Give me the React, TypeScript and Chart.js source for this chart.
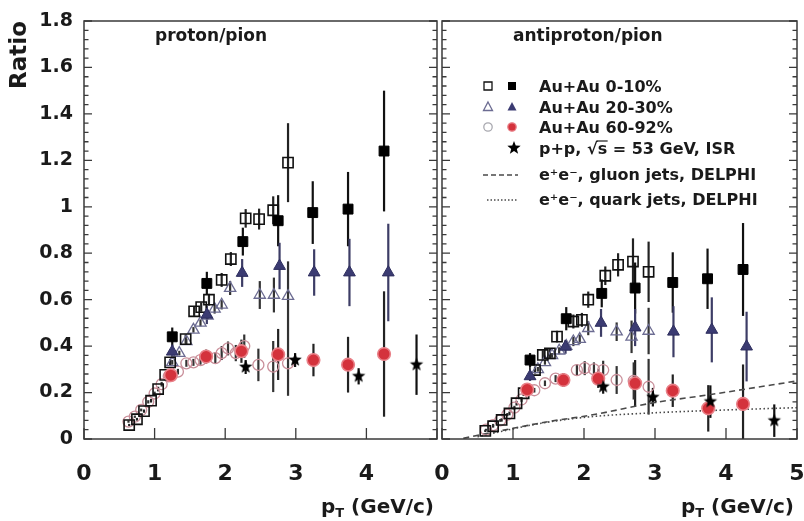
import React, { useEffect, useRef } from 'react';
import { Chart, registerables } from 'chart.js';

Chart.register(...registerables);

const FONT = '"DejaVu Sans", "Liberation Sans", Arial, sans-serif';

// ---------- axis ----------
const X_MIN = 0;
const X_MAX = 5;
const Y_MIN = 0;
const Y_MAX = 1.8;
const Y_STEP = 0.2;
const Y_MINOR = 0.04;

// ---------- left panel: proton/pion ----------
const P_OPEN010_X = [0.64, 0.75, 0.85, 0.95, 1.05, 1.15, 1.22, 1.44, 1.56, 1.66, 1.77, 1.95, 2.08, 2.29, 2.48, 2.68, 2.89];
const P_OPEN010_Y = [0.06, 0.085, 0.12, 0.165, 0.215, 0.276, 0.33, 0.43, 0.55, 0.568, 0.6, 0.685, 0.775, 0.95, 0.947, 0.985, 1.19];
const P_OPEN010_E = [0.005, 0.006, 0.007, 0.008, 0.01, 0.012, 0.015, 0.02, 0.02, 0.02, 0.025, 0.03, 0.03, 0.04, 0.045, 0.06, 0.17];

const P_FULL010_X = [1.25, 1.74, 2.25, 2.75, 3.24, 3.74, 4.25];
const P_FULL010_Y = [0.44, 0.67, 0.85, 0.94, 0.975, 0.99, 1.24];
const P_FULL010_E = [0.04, 0.05, 0.06, 0.11, 0.135, 0.16, 0.26];

const P_OPEN2030_X = [1.25, 1.35, 1.45, 1.55, 1.65, 1.75, 1.85, 1.95, 2.07, 2.49, 2.69, 2.89];
const P_OPEN2030_Y = [0.33, 0.37, 0.42, 0.47, 0.5, 0.53, 0.56, 0.578, 0.65, 0.62, 0.62, 0.615];
const P_OPEN2030_E = [0.01, 0.01, 0.012, 0.012, 0.015, 0.015, 0.02, 0.02, 0.03, 0.06, 0.075, 0.15];

const P_FULL2030_X = [1.25, 1.74, 2.24, 2.77, 3.26, 3.76, 4.31];
const P_FULL2030_Y = [0.376, 0.535, 0.715, 0.745, 0.717, 0.717, 0.717];
const P_FULL2030_E = [0.03, 0.04, 0.06, 0.1, 0.1, 0.145, 0.21];

const P_OPEN6092_X = [0.63, 0.72, 0.81, 0.91, 1.0, 1.1, 1.2, 1.33, 1.45, 1.55, 1.65, 1.86, 1.95, 2.04, 2.15, 2.27, 2.47, 2.68, 2.89];
const P_OPEN6092_Y = [0.075, 0.096, 0.125, 0.16, 0.196, 0.236, 0.27, 0.29, 0.326, 0.33, 0.34, 0.348, 0.37, 0.39, 0.37, 0.4, 0.319, 0.312, 0.326];
const P_OPEN6092_E = [0.005, 0.005, 0.006, 0.007, 0.008, 0.01, 0.01, 0.012, 0.015, 0.015, 0.02, 0.025, 0.03, 0.03, 0.035, 0.05, 0.07, 0.11, 0.14];

const P_FULL6092_X = [1.23, 1.73, 2.23, 2.75, 3.25, 3.74, 4.25];
const P_FULL6092_Y = [0.275, 0.355, 0.378, 0.364, 0.34, 0.32, 0.366];
const P_FULL6092_E = [0.02, 0.03, 0.05, 0.11, 0.07, 0.12, 0.27];

const P_PP_X = [2.29, 2.99, 3.89, 4.71];
const P_PP_Y = [0.31, 0.34, 0.27, 0.32];
const P_PP_E = [0.03, 0.03, 0.035, 0.13];

// ---------- right panel: antiproton/pion ----------
const A_OPEN010_X = [0.61, 0.72, 0.84, 0.95, 1.05, 1.15, 1.31, 1.42, 1.52, 1.62, 1.85, 1.97, 2.06, 2.3, 2.48, 2.69, 2.91];
const A_OPEN010_Y = [0.035, 0.055, 0.082, 0.11, 0.154, 0.197, 0.297, 0.362, 0.369, 0.441, 0.506, 0.513, 0.6, 0.703, 0.75, 0.764, 0.72];
const A_OPEN010_E = [0.005, 0.006, 0.007, 0.008, 0.01, 0.012, 0.015, 0.02, 0.02, 0.025, 0.03, 0.03, 0.035, 0.04, 0.05, 0.1, 0.13];

const A_FULL010_X = [1.24, 1.75, 2.25, 2.72, 3.25, 3.74, 4.24];
const A_FULL010_Y = [0.34, 0.518, 0.627, 0.65, 0.674, 0.69, 0.73];
const A_FULL010_E = [0.03, 0.05, 0.06, 0.11, 0.13, 0.13, 0.2];

const A_OPEN2030_X = [1.35, 1.45, 1.55, 1.65, 1.75, 1.85, 1.94, 2.06, 2.46, 2.67, 2.91];
const A_OPEN2030_Y = [0.3, 0.33, 0.36, 0.38, 0.4, 0.42, 0.43, 0.477, 0.462, 0.44, 0.465];
const A_OPEN2030_E = [0.01, 0.01, 0.01, 0.015, 0.015, 0.02, 0.02, 0.03, 0.04, 0.07, 0.1];

const A_FULL2030_X = [1.24, 1.74, 2.24, 2.72, 3.26, 3.8, 4.29];
const A_FULL2030_Y = [0.27, 0.397, 0.5, 0.48, 0.462, 0.47, 0.398];
const A_FULL2030_E = [0.02, 0.03, 0.06, 0.08, 0.11, 0.14, 0.15];

const A_OPEN6092_X = [0.62, 0.72, 0.82, 0.92, 1.02, 1.12, 1.3, 1.45, 1.6, 1.9, 2.01, 2.14, 2.27, 2.46, 2.7, 2.91];
const A_OPEN6092_Y = [0.04, 0.06, 0.08, 0.105, 0.135, 0.17, 0.21, 0.24, 0.26, 0.297, 0.305, 0.3, 0.297, 0.254, 0.25, 0.225];
const A_OPEN6092_E = [0.004, 0.005, 0.006, 0.007, 0.008, 0.01, 0.01, 0.012, 0.015, 0.025, 0.03, 0.03, 0.04, 0.06, 0.08, 0.12];

const A_FULL6092_X = [1.2, 1.71, 2.2, 2.72, 3.25, 3.75, 4.24];
const A_FULL6092_Y = [0.213, 0.254, 0.26, 0.24, 0.208, 0.132, 0.151];
const A_FULL6092_E = [0.02, 0.03, 0.04, 0.1, 0.07, 0.1, 0.17];

const A_PP_X = [2.27, 2.97, 3.78, 4.68];
const A_PP_Y = [0.225, 0.18, 0.161, 0.079];
const A_PP_E = [0.03, 0.04, 0.07, 0.07];

const GLUON_X = [0.3, 1.0, 1.5, 2.1, 3.0, 3.75, 5.0];
const GLUON_Y = [0.003, 0.046, 0.075, 0.103, 0.157, 0.19, 0.25];
const QUARK_X = [0.5, 1.4, 2.1, 3.0, 4.0, 5.0];
const QUARK_Y = [0.01, 0.068, 0.096, 0.113, 0.125, 0.135];

// ---------- texts ----------
const LEFT_TITLE = 'proton/pion';
const RIGHT_TITLE = 'antiproton/pion';
const Y_TITLE = 'Ratio';
const LEGEND_LABELS = [
  'Au+Au 0-10%',
  'Au+Au 20-30%',
  'Au+Au 60-92%',
  'p+p, √s = 53 GeV, ISR',
  'e⁺e⁻, gluon jets, DELPHI',
  'e⁺e⁻, quark jets, DELPHI',
];

// ---------- styles ----------
const C_BLACK = '#111111';
const C_NAVY = '#3b3b72';
const C_NAVY_OPEN = '#6c6c92';
const C_RED = '#d4323c';
const C_RED_EDGE = '#e98088';
const C_PINK = '#c98f9a';
const C_LINE = '#4a4a4a';
const C_TEXT = '#1a1a1a';

function makeStar(r: number, color: string) {
  const c = document.createElement('canvas');
  const s = Math.ceil(r * 2 + 2);
  c.width = s;
  c.height = s;
  const g = c.getContext('2d')!;
  g.fillStyle = color;
  g.beginPath();
  for (let i = 0; i < 10; i++) {
    const ang = -Math.PI / 2 + (i * Math.PI) / 5;
    const rad = i % 2 === 0 ? r : r * 0.42;
    const px = s / 2 + rad * Math.cos(ang);
    const py = s / 2 + rad * Math.sin(ang);
    if (i === 0) g.moveTo(px, py);
    else g.lineTo(px, py);
  }
  g.closePath();
  g.fill();
  return c;
}

function pts(xs: number[], ys: number[]) {
  return xs.map((x, i) => ({ x, y: ys[i] }));
}

function styles(star: HTMLCanvasElement) {
  return {
    openSq: { pointStyle: 'rect', pointRadius: 7.2, pointBorderWidth: 1.6, pointBorderColor: C_BLACK, pointBackgroundColor: 'rgba(0,0,0,0)', errColor: '#222' },
    fullSq: { pointStyle: 'rect', pointRadius: 7, pointBorderWidth: 1, pointBorderColor: '#000', pointBackgroundColor: '#000', errColor: '#111' },
    openTri: { pointStyle: 'triangle', pointRadius: 6.5, pointBorderWidth: 1.3, pointBorderColor: C_NAVY_OPEN, pointBackgroundColor: 'rgba(0,0,0,0)', errColor: '#333' },
    fullTri: { pointStyle: 'triangle', pointRadius: 6.8, pointBorderWidth: 1, pointBorderColor: '#2e2e5e', pointBackgroundColor: C_NAVY, errColor: '#3d3d66' },
    openCirc: { pointStyle: 'circle', pointRadius: 5.5, pointBorderWidth: 1.3, pointBorderColor: C_PINK, pointBackgroundColor: 'rgba(0,0,0,0)', errColor: '#333' },
    fullCirc: { pointStyle: 'circle', pointRadius: 6.3, pointBorderWidth: 1.6, pointBorderColor: C_RED_EDGE, pointBackgroundColor: C_RED, errColor: '#222' },
    star: { pointStyle: star, pointRadius: 7, errColor: '#111' },
  } as any;
}

function series(label: string, xs: number[], ys: number[], es: number[], st: any) {
  return { label, data: pts(xs, ys), errors: es, showLine: false, ...st };
}

function curve(label: string, xs: number[], ys: number[], dash: number[]) {
  return {
    label,
    data: pts(xs, ys),
    showLine: true,
    pointRadius: 0,
    borderColor: C_LINE,
    borderWidth: 1.6,
    borderDash: dash,
    cubicInterpolationMode: 'monotone',
    fill: false,
  };
}

// ---------- plugins ----------
const errorBars = {
  id: 'errorBars',
  beforeDatasetsDraw(chart: any) {
    const { ctx, chartArea } = chart;
    const y = chart.scales.y;
    ctx.save();
    ctx.beginPath();
    ctx.rect(chartArea.left, chartArea.top, chartArea.right - chartArea.left, chartArea.bottom - chartArea.top);
    ctx.clip();
    chart.data.datasets.forEach((ds: any, i: number) => {
      if (!ds.errors) return;
      const meta = chart.getDatasetMeta(i);
      ctx.strokeStyle = ds.errColor || '#222';
      ctx.lineWidth = 2.2;
      meta.data.forEach((el: any, j: number) => {
        const v = ds.data[j].y;
        const e = ds.errors[j];
        const y1 = y.getPixelForValue(v + e);
        const y2 = y.getPixelForValue(v - e);
        ctx.beginPath();
        ctx.moveTo(el.x, y1);
        ctx.lineTo(el.x, y2);
        ctx.stroke();
      });
    });
    ctx.restore();
  },
};

function drawMarker(ctx: CanvasRenderingContext2D, kind: string, x: number, y: number, star: HTMLCanvasElement) {
  ctx.save();
  ctx.lineWidth = 1.3;
  const h = 4;
  if (kind === 'openSq' || kind === 'fullSq') {
    ctx.beginPath();
    ctx.rect(x - h, y - h, 2 * h, 2 * h);
    if (kind === 'fullSq') { ctx.fillStyle = '#000'; ctx.fill(); }
    else { ctx.strokeStyle = C_BLACK; ctx.stroke(); }
  } else if (kind === 'openTri' || kind === 'fullTri') {
    ctx.beginPath();
    ctx.moveTo(x, y - 5);
    ctx.lineTo(x + 4.5, y + 3.5);
    ctx.lineTo(x - 4.5, y + 3.5);
    ctx.closePath();
    if (kind === 'fullTri') { ctx.fillStyle = C_NAVY; ctx.fill(); }
    else { ctx.strokeStyle = C_NAVY_OPEN; ctx.stroke(); }
  } else if (kind === 'openCirc' || kind === 'fullCirc') {
    ctx.beginPath();
    ctx.arc(x, y, 4.2, 0, Math.PI * 2);
    if (kind === 'fullCirc') { ctx.fillStyle = C_RED; ctx.fill(); ctx.strokeStyle = C_RED_EDGE; ctx.stroke(); }
    else { ctx.strokeStyle = '#a9a9b0'; ctx.stroke(); }
  } else if (kind === 'star') {
    ctx.drawImage(star, x - star.width / 2, y - star.height / 2);
  }
  ctx.restore();
}

const decor = {
  id: 'decor',
  afterDraw(chart: any, _args: any, opts: any) {
    const { ctx, chartArea } = chart;
    const { left, right, top, bottom } = chartArea;
    const x = chart.scales.x;
    const y = chart.scales.y;
    ctx.save();
    // frame
    ctx.strokeStyle = '#3a3a3a';
    ctx.lineWidth = 1.5;
    ctx.strokeRect(left, top, right - left, bottom - top);
    // y ticks (inward, both sides)
    ctx.lineWidth = 1.3;
    const n = Math.round((Y_MAX - Y_MIN) / Y_MINOR);
    for (let i = 0; i <= n; i++) {
      const v = Y_MIN + i * Y_MINOR;
      const py = y.getPixelForValue(v);
      const len = i % Math.round(Y_STEP / Y_MINOR) === 0 ? 8 : 4.5;
      ctx.beginPath();
      ctx.moveTo(left, py);
      ctx.lineTo(left + len, py);
      ctx.moveTo(right, py);
      ctx.lineTo(right - len, py);
      ctx.stroke();
    }
    // x ticks (inward, bottom)
    for (let v = X_MIN; v <= X_MAX; v++) {
      const px = x.getPixelForValue(v);
      ctx.beginPath();
      ctx.moveTo(px, bottom);
      ctx.lineTo(px, bottom - 11);
      ctx.stroke();
    }
    // panel title
    ctx.fillStyle = C_TEXT;
    ctx.textBaseline = 'alphabetic';
    ctx.textAlign = 'left';
    ctx.font = `bold 17px ${FONT}`;
    ctx.fillText(opts.title, left + 71, top + 20);
    // x-axis title p_T (GeV/c)
    const base = 513;
    ctx.font = `bold 20px ${FONT}`;
    const rest = ' (GeV/c)';
    const wRest = ctx.measureText(rest).width;
    const wP = ctx.measureText('p').width;
    ctx.font = `bold 13px ${FONT}`;
    const wT = ctx.measureText('T').width;
    const x0 = right - 3 - wRest - wT - wP;
    ctx.font = `bold 20px ${FONT}`;
    ctx.fillText('p', x0, base);
    ctx.font = `bold 13px ${FONT}`;
    ctx.fillText('T', x0 + wP, base + 4);
    ctx.font = `bold 20px ${FONT}`;
    ctx.fillText(rest, x0 + wP + wT, base);

    // legend
    if (opts.legend) {
      const star: HTMLCanvasElement = opts.star;
      const baselines = [71, 92, 112, 133, 159, 184];
      const textX = left + 97;
      const openX = left + 46;
      const fullX = left + 70;
      const rows: [string | null, string | null][] = [
        ['openSq', 'fullSq'],
        ['openTri', 'fullTri'],
        ['openCirc', 'fullCirc'],
        [null, 'star'],
        [null, null],
        [null, null],
      ];
      LEGEND_LABELS.forEach((label, i) => {
        const by = top + baselines[i];
        const my = by - 6;
        const [a, b] = rows[i];
        if (a) drawMarker(ctx, a, openX, my, star);
        if (b) drawMarker(ctx, b, b === 'star' ? fullX + 2 : fullX, my, star);
        if (i === 4 || i === 5) {
          ctx.save();
          ctx.strokeStyle = C_LINE;
          ctx.lineWidth = 1.4;
          ctx.setLineDash(i === 4 ? [5, 3] : [1.5, 2]);
          ctx.beginPath();
          ctx.moveTo(left + (i === 4 ? 41 : 45), my + 1);
          ctx.lineTo(left + 76, my + 1);
          ctx.stroke();
          ctx.restore();
        }
        ctx.fillStyle = C_TEXT;
        ctx.font = `bold 16px ${FONT}`;
        ctx.textAlign = 'left';
        ctx.fillText(label, textX, by);
        if (i === 3) {
          const pre = label.slice(0, label.indexOf('√') + 1);
          const wPre = ctx.measureText(pre).width;
          const wS = ctx.measureText('s').width;
          ctx.strokeStyle = C_TEXT;
          ctx.lineWidth = 1.2;
          ctx.beginPath();
          ctx.moveTo(textX + wPre - 1, by - 13);
          ctx.lineTo(textX + wPre + wS + 0.5, by - 13);
          ctx.stroke();
        }
      });
    }
    ctx.restore();
  },
};

function buildDatasets(panel: 'p' | 'a', star: HTMLCanvasElement) {
  const st = styles(star);
  if (panel === 'p') {
    return [
      series('p+p ISR', P_PP_X, P_PP_Y, P_PP_E, st.star),
      series('Au+Au 0-10% (full)', P_FULL010_X, P_FULL010_Y, P_FULL010_E, st.fullSq),
      series('Au+Au 20-30% (full)', P_FULL2030_X, P_FULL2030_Y, P_FULL2030_E, st.fullTri),
      series('Au+Au 60-92% (full)', P_FULL6092_X, P_FULL6092_Y, P_FULL6092_E, st.fullCirc),
      series('Au+Au 0-10% (open)', P_OPEN010_X, P_OPEN010_Y, P_OPEN010_E, st.openSq),
      series('Au+Au 20-30% (open)', P_OPEN2030_X, P_OPEN2030_Y, P_OPEN2030_E, st.openTri),
      series('Au+Au 60-92% (open)', P_OPEN6092_X, P_OPEN6092_Y, P_OPEN6092_E, st.openCirc),
    ];
  }
  return [
    series('p+p ISR', A_PP_X, A_PP_Y, A_PP_E, st.star),
    series('Au+Au 0-10% (full)', A_FULL010_X, A_FULL010_Y, A_FULL010_E, st.fullSq),
    series('Au+Au 20-30% (full)', A_FULL2030_X, A_FULL2030_Y, A_FULL2030_E, st.fullTri),
    series('Au+Au 60-92% (full)', A_FULL6092_X, A_FULL6092_Y, A_FULL6092_E, st.fullCirc),
    series('Au+Au 0-10% (open)', A_OPEN010_X, A_OPEN010_Y, A_OPEN010_E, st.openSq),
    series('Au+Au 20-30% (open)', A_OPEN2030_X, A_OPEN2030_Y, A_OPEN2030_E, st.openTri),
    series('Au+Au 60-92% (open)', A_OPEN6092_X, A_OPEN6092_Y, A_OPEN6092_E, st.openCirc),
    curve('e+e- gluon jets, DELPHI', GLUON_X, GLUON_Y, [6, 4]),
    curve('e+e- quark jets, DELPHI', QUARK_X, QUARK_Y, [1.5, 2.5]),
  ];
}

function makeOptions(panel: 'p' | 'a', star: HTMLCanvasElement): any {
  const tickFontX = { family: FONT, size: 22, weight: 'bold' };
  const tickFontY = { family: FONT, size: 19, weight: 'bold' };
  return {
    animation: false,
    responsive: false,
    devicePixelRatio: 1,
    events: [],
    layout: {
      autoPadding: false,
      padding: panel === 'p' ? { left: 0, right: 3, top: 21, bottom: 0 } : { left: 22, right: 7, top: 21, bottom: 0 },
    },
    plugins: {
      legend: { display: false },
      tooltip: { enabled: false },
      decor: { title: panel === 'p' ? LEFT_TITLE : RIGHT_TITLE, legend: panel === 'a', star },
    },
    scales: {
      x: {
        type: 'linear',
        position: 'bottom',
        min: X_MIN,
        max: X_MAX,
        grid: { display: false },
        border: { display: false },
        ticks: {
          stepSize: 1,
          autoSkip: false,
          maxRotation: 0,
          padding: 14,
          font: tickFontX,
          // the left panel's last label is hidden: the right panel's "0" sits there
          color: (c: any) => (panel === 'p' && c.tick && c.tick.value === X_MAX ? 'rgba(0,0,0,0)' : C_TEXT),
          callback: (v: number) => String(v),
        },
        afterFit: (s: any) => {
          s.height = 82;
          s.paddingLeft = 0;
          s.paddingRight = 0;
        },
      },
      y: {
        type: 'linear',
        display: panel === 'p',
        min: Y_MIN,
        max: Y_MAX,
        grid: { display: false },
        border: { display: false },
        ticks: {
          stepSize: Y_STEP,
          padding: 3,
          color: C_TEXT,
          font: tickFontY,
          callback: (v: number) => String(Math.round(v * 10) / 10),
        },
        title: {
          display: panel === 'p',
          text: Y_TITLE,
          align: 'end',
          color: C_TEXT,
          font: { family: FONT, size: 23, weight: 'bold' },
          padding: { top: 6, bottom: 0 },
        },
        afterFit: (s: any) => {
          s.width = panel === 'p' ? 84 : 0;
          s.paddingTop = 0;
          s.paddingBottom = 0;
          s.paddingLeft = 0;
          s.paddingRight = 0;
        },
      },
    },
  };
}

function Panel({ panel, left, width }: { panel: 'p' | 'a'; left: number; width: number }) {
  const ref = useRef<HTMLCanvasElement | null>(null);
  useEffect(() => {
    if (!ref.current) return;
    const star = makeStar(7, '#000');
    const chart = new Chart(ref.current, {
      type: 'scatter',
      data: { datasets: buildDatasets(panel, star) as any },
      options: makeOptions(panel, star),
      plugins: [errorBars, decor],
    });
    return () => chart.destroy();
  }, [panel]);
  return (
    <canvas
      ref={ref}
      width={width}
      height={521}
      style={{ position: 'absolute', left, top: 0, width, height: 521 }}
    />
  );
}

export default function App() {
  return (
    <div style={{ position: 'absolute', left: 0, top: 0, width: 804, height: 521, background: '#fff', overflow: 'hidden' }}>
      <Panel panel="p" left={0} width={440} />
      <Panel panel="a" left={420} width={384} />
    </div>
  );
}
